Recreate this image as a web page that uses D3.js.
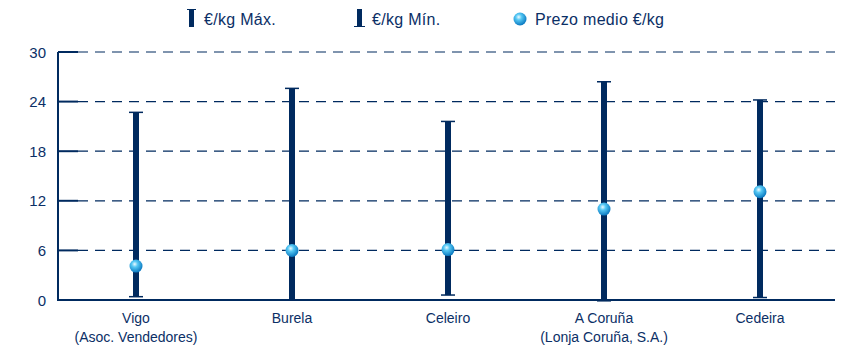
<!DOCTYPE html>
<html lang="gl">
<head>
<meta charset="UTF-8">
<title>Prezos por lonxa</title>
<script src="https://d3js.org/d3.v7.min.js"></script>
<style>
  body { margin: 0; background: #fff; }
  svg text { font-family: "Liberation Sans", Arial, sans-serif; fill: #0b2f66; }
</style>
</head>
<body>
<div id="chart"></div>
<script>
// data
const categories = [["Vigo", "(Asoc. Vendedores)"], ["Burela"], ["Celeiro"], ["A Coruña", "(Lonja Coruña, S.A.)"], ["Cedeira"]];
const maxValues = [22.7, 25.6, 21.6, 26.4, 24.2];
const minValues = [0.4, 0.0, 0.6, -0.1, 0.3];
const avgValues = [4.1, 6.0, 6.1, 11.0, 13.1];
const yTicks = [0, 6, 12, 18, 24, 30];
const legendLabels = ["€/kg Máx.", "€/kg Mín.", "Prezo medio €/kg"];

const navy = "#002a5f";
const W = 857, H = 355;
const plotLeft = 58, plotRight = 838, plotTop = 52, plotBottom = 300;

const svg = d3.select("#chart").append("svg")
  .attr("width", W).attr("height", H);

const defs = svg.append("defs");
const grad = defs.append("radialGradient").attr("id", "ball")
  .attr("cx", "40%").attr("cy", "35%").attr("r", "65%");
grad.append("stop").attr("offset", "0%").attr("stop-color", "#eefaff");
grad.append("stop").attr("offset", "35%").attr("stop-color", "#55c8f4");
grad.append("stop").attr("offset", "100%").attr("stop-color", "#0a78c0");

const x = d3.scaleBand().domain(d3.range(categories.length)).range([plotLeft, plotRight]);
const y = d3.scaleLinear().domain([0, 30]).range([plotBottom, plotTop]);

// gridlines (dashed) and tick marks
svg.append("g").selectAll("line").data(yTicks.filter(d => d > 0)).join("line")
  .attr("x1", plotLeft + 20).attr("x2", 835)
  .attr("y1", d => y(d)).attr("y2", d => y(d))
  .attr("stroke", navy).attr("stroke-width", 1.2)
  .attr("stroke-dasharray", "10,7");

svg.append("g").selectAll("line").data(yTicks.filter(d => d > 0)).join("line")
  .attr("x1", plotLeft).attr("x2", plotLeft + 20)
  .attr("y1", d => y(d)).attr("y2", d => y(d))
  .attr("stroke", navy).attr("stroke-width", 2);

// axes
svg.append("line").attr("x1", plotLeft).attr("x2", plotLeft).attr("y1", plotTop).attr("y2", plotBottom + 1)
  .attr("stroke", navy).attr("stroke-width", 2);
svg.append("line").attr("x1", plotLeft - 1).attr("x2", 835).attr("y1", plotBottom).attr("y2", plotBottom)
  .attr("stroke", navy).attr("stroke-width", 2);

svg.append("g").selectAll("text").data(yTicks).join("text")
  .attr("x", 46).attr("y", d => y(d) + 5.5)
  .attr("text-anchor", "end").attr("font-size", 15)
  .text(d => d);

// category labels
const cx = i => x(i) + x.bandwidth() / 2;
const labels = svg.append("g").selectAll("text").data(categories).join("text")
  .attr("x", (d, i) => cx(i)).attr("y", 323)
  .attr("text-anchor", "middle").attr("font-size", 14);
labels.selectAll("tspan").data(d => d).join("tspan")
  .attr("x", function () { return this.parentNode.getAttribute("x"); })
  .attr("dy", (d, i) => i === 0 ? 0 : 19)
  .text(d => d);

// range bars
const idx = d3.range(categories.length);
svg.append("g").selectAll("rect").data(idx).join("rect")
  .attr("x", i => cx(i) - 3).attr("width", 6)
  .attr("y", i => y(maxValues[i])).attr("height", i => y(minValues[i]) - y(maxValues[i]))
  .attr("fill", navy);

// caps
[maxValues, minValues].forEach(vals => {
  svg.append("g").selectAll("line").data(idx).join("line")
    .attr("x1", i => cx(i) - 7).attr("x2", i => cx(i) + 7)
    .attr("y1", i => y(vals[i])).attr("y2", i => y(vals[i]))
    .attr("stroke", navy).attr("stroke-width", 1.5);
});

// averages
svg.append("g").selectAll("circle").data(idx).join("circle")
  .attr("cx", i => cx(i)).attr("cy", i => y(avgValues[i]))
  .attr("r", 6.5).attr("fill", "url(#ball)");

// legend
const lg = svg.append("g");
const lx = [189, 357, 520];
lg.append("rect").attr("x", lx[0]).attr("y", 9).attr("width", 5).attr("height", 18).attr("fill", navy);
lg.append("line").attr("x1", lx[0] - 2).attr("x2", lx[0] + 7).attr("y1", 9.5).attr("y2", 9.5)
  .attr("stroke", navy).attr("stroke-width", 1);
lg.append("rect").attr("x", lx[1]).attr("y", 9).attr("width", 5).attr("height", 18).attr("fill", navy);
lg.append("line").attr("x1", lx[1] - 3).attr("x2", lx[1] + 8).attr("y1", 26.5).attr("y2", 26.5)
  .attr("stroke", navy).attr("stroke-width", 1);
lg.append("circle").attr("cx", lx[2]).attr("cy", 19).attr("r", 6.5).attr("fill", "url(#ball)");
lg.selectAll("text").data(legendLabels).join("text")
  .attr("x", (d, i) => [204, 372, 535][i]).attr("y", 24.5)
  .attr("font-size", 16).attr("letter-spacing", 0.3).text(d => d);
</script>
</body>
</html>
